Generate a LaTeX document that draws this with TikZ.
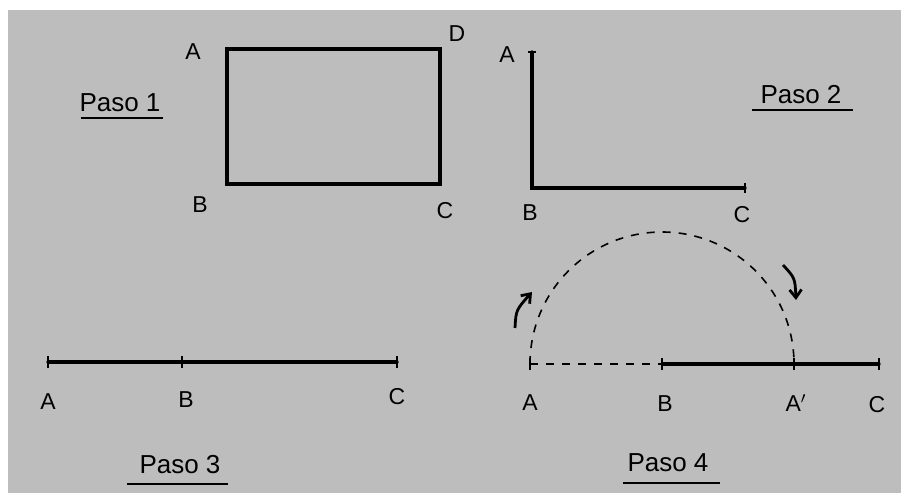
\documentclass[tikz,border=0pt]{standalone}
\usepackage{fontspec}
\setmainfont{Liberation Sans}
\usetikzlibrary{arrows.meta}
\definecolor{paper}{RGB}{189,189,189}
\begin{document}
\begin{tikzpicture}[x=0.5pt,y=-0.5pt,
  lbl/.style={font=\fontsize{11.5}{13}\selectfont, inner sep=0pt},
  titletext/.style={font=\fontsize{13}{15}\selectfont, inner sep=0pt},
  seg/.style={line width=1.6pt, line cap=round},
  tk/.style={line width=1.2pt},
  ul/.style={line width=0.9pt},
  dsh/.style={line width=0.8pt, dash pattern=on 4pt off 4pt},
  turn/.style={line width=1.4pt, -{Straight Barb[length=4pt,width=6pt]}}]
\useasboundingbox (0,0) rectangle (903,493);
\fill[white] (0,0) rectangle (903,493);
\fill[paper] (8,10) rectangle (901,493);

% ---------- Paso 1 ----------
\coordinate (r1A) at (227,49);
\coordinate (r1D) at (440,49);
\coordinate (r1C) at (440,184);
\coordinate (r1B) at (227,184);
\draw[seg, line join=miter] (r1A) -- (r1D) -- (r1C) -- (r1B) -- cycle;
\node[lbl] (l1A) at (193,52) {A};
\node[lbl] (l1D) at (457,34) {D};
\node[lbl] (l1B) at (200,205) {B};
\node[lbl] (l1C) at (445,211) {C};
\node[titletext] (t1) at (120,103) {Paso 1};
\coordinate (u1a) at (81,118);
\coordinate (u1b) at (163,118);
\draw[ul] (u1a) -- (u1b);

% ---------- Paso 2 ----------
\coordinate (r2A) at (532,52);
\coordinate (r2B) at (532,188);
\coordinate (r2C) at (745,188);
\draw[seg, line join=miter] (r2A) -- (r2B) -- (r2C);
\draw[tk] ([xshift=-2pt]r2A) -- ([xshift=2pt]r2A);
\draw[tk] ([yshift=-2.5pt]r2C) -- ([yshift=2.5pt]r2C);
\node[lbl] (l2A) at (507,55) {A};
\node[lbl] (l2B) at (530,213) {B};
\node[lbl] (l2C) at (742,215) {C};
\node[titletext] (t2) at (801,95) {Paso 2};
\coordinate (u2a) at (752,110);
\coordinate (u2b) at (853,110);
\draw[ul] (u2a) -- (u2b);

% ---------- Paso 3 ----------
\coordinate (s3A) at (48,362);
\coordinate (s3B) at (182,362);
\coordinate (s3C) at (397,362);
\draw[seg] (s3A) -- (s3B) -- (s3C);
\foreach \p in {s3A,s3B,s3C}
  \draw[tk] ([yshift=-3pt]\p) -- ([yshift=3pt]\p);
\node[lbl] (l3A) at (48,402) {A};
\node[lbl] (l3B) at (186,400) {B};
\node[lbl] (l3C) at (397,397) {C};
\node[titletext] (t3) at (180,465) {Paso 3};
\coordinate (u3a) at (127,484);
\coordinate (u3b) at (228,484);
\draw[ul] (u3a) -- (u3b);

% ---------- Paso 4 ----------
\coordinate (s4A) at (530,364);
\coordinate (s4B) at (662,364);
\coordinate (s4Ap) at (794,364);
\coordinate (s4C) at (879,364);
\draw[dsh] (s4A) -- (s4B);
\draw[seg] (s4B) -- (s4Ap) -- (s4C);
\foreach \p in {s4A,s4B,s4Ap,s4C}
  \draw[tk] ([yshift=-3pt]\p) -- ([yshift=3pt]\p);
\draw[dsh] (s4A) arc[start angle=180, end angle=360, radius=132];
\node[lbl] (l4A) at (530,403) {A};
\node[lbl] (l4B) at (665,404) {B};
\node[lbl] (l4Ap) at (796,403) {A$'$};
\node[lbl] (l4C) at (877,405) {C};
\coordinate (ar1s) at (515,328);
\coordinate (ar1e) at (532,292);
\draw[turn] (ar1s) .. controls (516,310) .. (ar1e);
\coordinate (ar2s) at (783,265);
\coordinate (ar2e) at (796,300);
\draw[turn] (ar2s) .. controls (795,278) .. (ar2e);
\node[titletext] (t4) at (668,463) {Paso 4};
\coordinate (u4a) at (623,483);
\coordinate (u4b) at (720,483);
\draw[ul] (u4a) -- (u4b);
\end{tikzpicture}
\end{document}
